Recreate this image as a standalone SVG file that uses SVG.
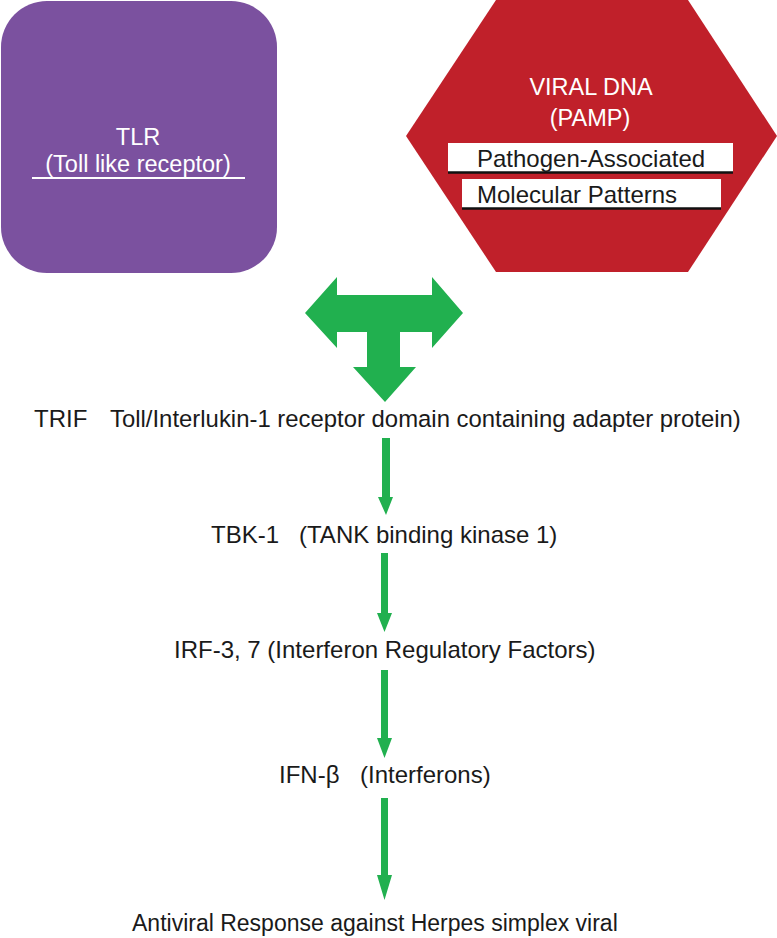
<svg xmlns="http://www.w3.org/2000/svg" width="777" height="938" viewBox="0 0 777 938">
<style>
.lbl{font-family:"Liberation Sans",Arial,sans-serif;fill:#1a1a1a;font-size:24px}
.wt{font-family:"Liberation Sans",Arial,sans-serif;fill:#ffffff;font-size:23.5px;text-anchor:middle}
.bk{font-family:"Liberation Sans",Arial,sans-serif;fill:#1a1a1a;font-size:24px}
.arr{fill:#21B04F}
</style>
<rect width="777" height="938" fill="#ffffff"/>
<g id="tlr">
<rect x="1" y="1" width="276" height="272" rx="46" ry="46" fill="#7B519F"/>
<text class="wt" x="138" y="145">TLR</text>
<text class="wt" x="138" y="172">(Toll like receptor)</text>
<line x1="32" y1="178" x2="245" y2="178" stroke="#ffffff" stroke-width="2.2"/>
</g>
<g id="viral-dna">
<polygon points="406,136 496,0 688,0 777,136 688,272 496,272" fill="#C0202A"/>
<text class="wt" x="591" y="95">VIRAL DNA</text>
<text class="wt" x="590" y="126">(PAMP)</text>
<rect x="448" y="143" width="285" height="29" fill="#ffffff"/>
<line x1="448" y1="172.5" x2="733" y2="172.5" stroke="#111111" stroke-width="2.5"/>
<text class="bk" x="477" y="167">Pathogen-Associated</text>
<rect x="462" y="179" width="259" height="29" fill="#ffffff"/>
<line x1="462" y1="208.5" x2="721" y2="208.5" stroke="#111111" stroke-width="2.5"/>
<text class="bk" x="477" y="203">Molecular Patterns</text>
</g>
<g id="trif">
<text class="lbl" y="427"><tspan x="34">TRIF</tspan><tspan x="110" style="font-size:23.9px">Toll/Interlukin-1 receptor domain containing adapter protein)</tspan></text>
</g>
<g id="tbk1">
<text class="lbl" y="543"><tspan x="211">TBK-1</tspan><tspan x="299">(TANK binding kinase 1)</tspan></text>
</g>
<g id="irf">
<text class="lbl" x="174" y="658">IRF-3, 7 (Interferon Regulatory Factors)</text>
</g>
<g id="ifnb">
<text class="lbl" y="783"><tspan x="279">IFN-β</tspan><tspan x="360">(Interferons)</tspan></text>
</g>
<g id="antiviral">
<text class="lbl" x="132" y="931" style="font-size:23px">Antiviral Response against Herpes simplex viral</text>
</g>
<g id="connectors">
<polygon class="arr" points="305,313 337,277 337,295 432,295 432,277 463,313 432,348 432,332 400,332 400,367 416,367 385,402 353,367 367,367 367,332 337,332 337,348"/>
<polygon class="arr" points="382,438 390,438 390,497 393,497 386,515 378,497 382,497"/>
<polygon class="arr" points="381,553 388,553 388,613 392,613 384.5,632 377,613 381,613"/>
<polygon class="arr" points="381,670 388,670 388,738 392,738 384.5,758 377,738 381,738"/>
<polygon class="arr" points="381,798 388,798 388,875 392,875 384.5,900 377,875 381,875"/>
</g>
</svg>
